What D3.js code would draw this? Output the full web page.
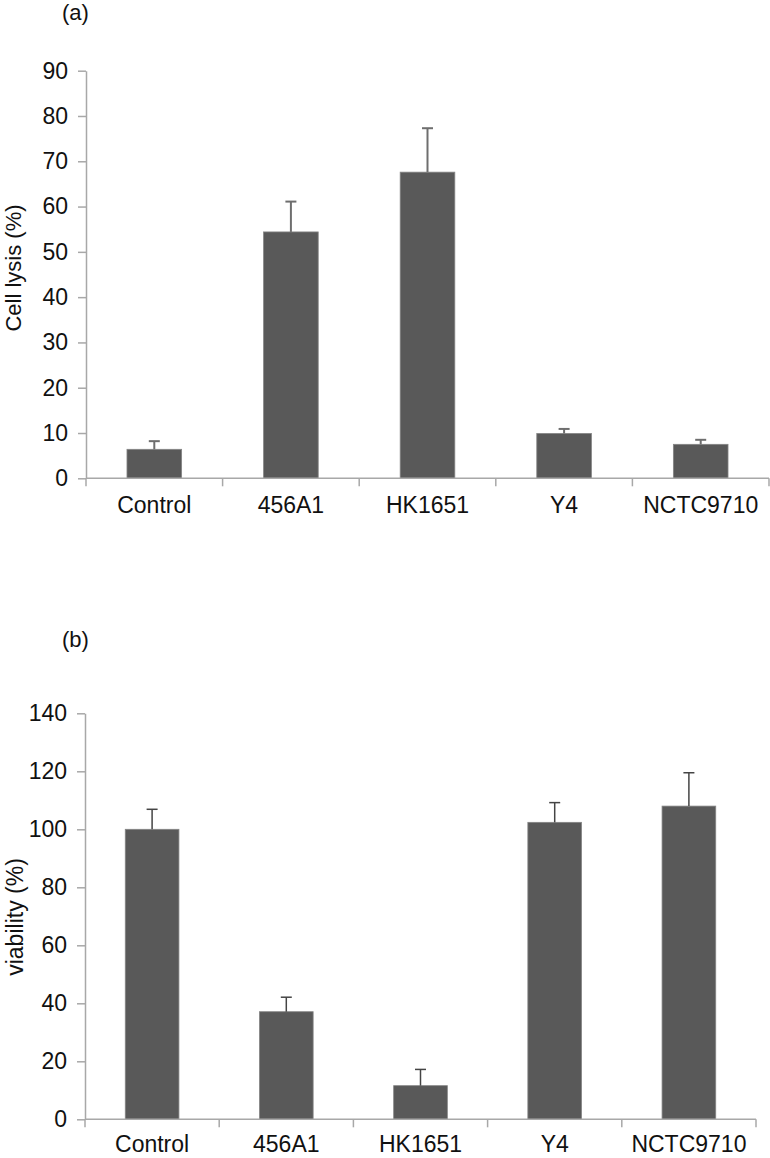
<!DOCTYPE html>
<html>
<head>
<meta charset="utf-8">
<script src="https://cdn.jsdelivr.net/npm/d3@7"></script>
<style>
  html, body { margin: 0; padding: 0; background: #fff; }
  svg { display: block; }
  text { font-family: "Liberation Sans", Arial, Helvetica, sans-serif; fill: #111; }
</style>
</head>
<body>
<svg id="chart" width="770" height="1158"></svg>
<script>
const categories = ["Control", "456A1", "HK1651", "Y4", "NCTC9710"];
const lysisValues = [6.4, 54.4, 67.6, 9.9, 7.5];
const lysisErrors = [1.8, 6.7, 9.7, 1.0, 1.0];
const viabilityValues = [100, 37.1, 11.6, 102.4, 108.0];
const viabilityErrors = [6.9, 5.0, 5.6, 6.8, 11.5];
const lysisTicks = [0, 10, 20, 30, 40, 50, 60, 70, 80, 90];
const viabilityTicks = [0, 20, 40, 60, 80, 100, 120, 140];

const svg = d3.select("#chart");

function panel(cfg) {
  const g = svg.append("g");
  const x = d3.scaleBand().domain(categories)
    .range([cfg.x0, cfg.x1]).paddingInner(0.6).paddingOuter(0.3);
  const y = d3.scaleLinear().domain([0, cfg.max]).range([cfg.y0, cfg.y1]);

  // panel letter
  g.append("text").attr("x", cfg.letterX).attr("y", cfg.letterY)
    .attr("font-size", 22).text(cfg.letter);

  // y axis
  const yAxis = d3.axisLeft(y).tickValues(cfg.ticks).tickSize(8).tickSizeOuter(0).tickPadding(10);
  const ya = g.append("g").attr("transform", `translate(${cfg.x0},0)`).call(yAxis);
  ya.select(".domain").attr("stroke", "#a8a8a8").attr("stroke-width", 1.5);
  ya.selectAll(".tick line").attr("stroke", "#a8a8a8").attr("stroke-width", 1.5);
  ya.selectAll(".tick text").attr("font-size", 23).attr("fill", "#111")
    .attr("font-family", '"Liberation Sans", Arial, Helvetica, sans-serif');

  // y title
  g.append("text")
    .attr("transform", `translate(${cfg.titleX},${cfg.titleY}) rotate(-90)`)
    .attr("text-anchor", "middle").attr("font-size", cfg.titleSize).text(cfg.title);

  // bars
  g.selectAll("rect.bar").data(cfg.values).join("rect")
    .attr("class", "bar")
    .attr("x", (d, i) => x(categories[i]))
    .attr("width", x.bandwidth())
    .attr("y", d => y(d))
    .attr("height", d => y(0) - y(d))
    .attr("fill", "#595959")
    .attr("stroke", "#858585").attr("stroke-width", 0.8);

  // error bars (upper only)
  const eb = g.selectAll("g.err").data(cfg.values).join("g").attr("class", "err");
  eb.append("line")
    .attr("x1", (d, i) => x(categories[i]) + x.bandwidth() / 2)
    .attr("x2", (d, i) => x(categories[i]) + x.bandwidth() / 2)
    .attr("y1", d => y(d))
    .attr("y2", (d, i) => y(d + cfg.errors[i]))
    .attr("stroke", cfg.errColor).attr("stroke-width", cfg.errWidth);
  eb.append("line")
    .attr("x1", (d, i) => x(categories[i]) + x.bandwidth() / 2 - 5.5)
    .attr("x2", (d, i) => x(categories[i]) + x.bandwidth() / 2 + 5.5)
    .attr("y1", (d, i) => y(d + cfg.errors[i]))
    .attr("y2", (d, i) => y(d + cfg.errors[i]))
    .attr("stroke", cfg.errColor).attr("stroke-width", cfg.errWidth);

  // x axis line and category boundary ticks
  g.append("line").attr("x1", cfg.x0).attr("x2", cfg.x1)
    .attr("y1", y(0)).attr("y2", y(0))
    .attr("stroke", "#a8a8a8").attr("stroke-width", 1.5);
  const bounds = d3.range(categories.length + 1).map(i => cfg.x0 + i * x.step());
  g.selectAll("line.xt").data(bounds).join("line").attr("class", "xt")
    .attr("x1", d => d).attr("x2", d => d)
    .attr("y1", y(0)).attr("y2", y(0) + 8)
    .attr("stroke", "#a8a8a8").attr("stroke-width", 1.5);

  // x labels
  g.selectAll("text.xl").data(categories).join("text").attr("class", "xl")
    .attr("x", d => x(d) + x.bandwidth() / 2)
    .attr("y", cfg.labelY)
    .attr("text-anchor", "middle").attr("font-size", 23).text(d => d);
}

panel({
  letter: "(a)", letterX: 62, letterY: 20,
  x0: 86, x1: 769, y0: 478.3, y1: 70.7, max: 90, ticks: lysisTicks,
  values: lysisValues, errors: lysisErrors,
  title: "Cell lysis (%)", titleX: 21, titleY: 268, titleSize: 22,
  errColor: "#6e6e6e", errWidth: 2,
  labelY: 513
});

panel({
  letter: "(b)", letterX: 62, letterY: 647,
  x0: 85, x1: 756, y0: 1119.3, y1: 713.3, max: 140, ticks: viabilityTicks,
  values: viabilityValues, errors: viabilityErrors,
  title: "viability (%)", titleX: 23, titleY: 917, titleSize: 23,
  errColor: "#444", errWidth: 1.5,
  labelY: 1152
});
</script>
</body>
</html>
